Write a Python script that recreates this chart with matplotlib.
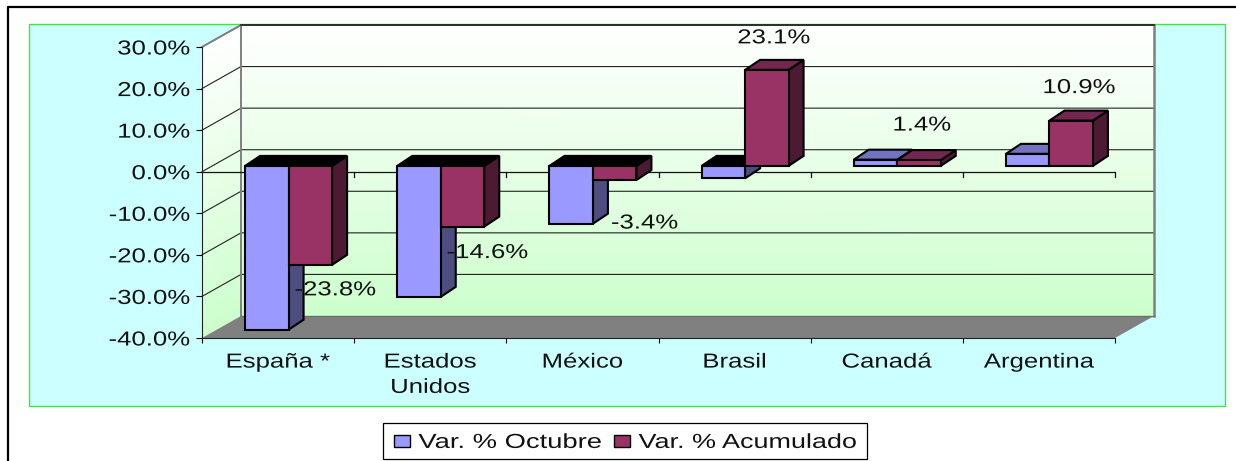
import matplotlib
matplotlib.use("Agg")
import matplotlib.pyplot as plt
from matplotlib.colors import LinearSegmentedColormap
from matplotlib.patches import Patch, Polygon, Rectangle
from matplotlib.patheffects import AbstractPathEffect
from matplotlib.transforms import Affine2D

plt.rcParams["font.family"] = ["Liberation Sans", "DejaVu Sans"]

# Data
categories = ["España *", "Estados\nUnidos", "México", "Brasil", "Canadá", "Argentina"]
var_octubre = [-39.4, -31.5, -13.9, -3.0, 1.5, 2.9]
var_acumulado = [-23.8, -14.6, -3.4, 23.1, 1.4, 10.9]
series_names = ["Var. % Octubre", "Var. % Acumulado"]
y_ticks = [-40, -30, -20, -10, 0, 10, 20, 30]

# Text in the reference is stretched sideways
TEXT_STRETCH = 1.27
FONT = 14.6


class Stretch(AbstractPathEffect):
    def __init__(self, sx=TEXT_STRETCH, anchor=0.5):
        super().__init__()
        self.sx = sx
        self.anchor = anchor

    def draw_path(self, renderer, gc, tpath, affine, rgbFace=None):
        bb = tpath.get_extents(affine)
        x0 = bb.x0 + self.anchor * bb.width
        stretched = affine + Affine2D().translate(-x0, 0).scale(self.sx, 1).translate(x0, 0)
        renderer.draw_path(gc, tpath, stretched, rgbFace)


W, H = 1236, 461
fig = plt.figure(figsize=(W / 100, H / 100), dpi=100, facecolor="white")

# Background panels, in pixels
bg = fig.add_axes([0, 0, 1, 1], zorder=-1)
bg.set_xlim(0, W)
bg.set_ylim(H, 0)
bg.axis("off")
bg.plot([8, 8, W], [H, 7, 7], color="black", lw=1.6)
bg.add_patch(Rectangle((29, 24), 1196, 382, fc="#CCFFFF", ec="#33EE33", lw=1))
bg.add_patch(Rectangle((383, 423), 484, 36, fc="white", ec="black", lw=0.9))

# Main axes: front plane of the 3D box
ax = fig.add_axes([202 / W, 1 - 338 / H, (1115 - 202) / W, (338 - 47) / H], zorder=1)
ax.patch.set_visible(False)
px_x = 6 / (1115 - 202)   # data units per pixel
px_y = 70 / (338 - 47)
depth_x, depth_y = 39 * px_x, 22 * px_y

# Walls and floor
wall_cmap = LinearSegmentedColormap.from_list("wall", ["#CCFFCC", "#FFFFFF"])
lo, hi = y_ticks[0], y_ticks[-1]
back = ax.pcolormesh([[depth_x, 6 + depth_x], [depth_x, 6 + depth_x]],
                     [[lo + depth_y, lo + depth_y], [hi + depth_y, hi + depth_y]],
                     [[0, 0], [1, 1]], shading="gouraud", cmap=wall_cmap, vmin=0, vmax=1, zorder=0)
side = ax.pcolormesh([[0, depth_x], [0, depth_x]],
                     [[lo, lo + depth_y], [hi, hi + depth_y]],
                     [[0, 0], [1, 1]], shading="gouraud", cmap=wall_cmap, vmin=0, vmax=1, zorder=0)
back.set_clip_on(False)
side.set_clip_on(False)
ax.add_patch(Polygon([(0, lo), (6, lo), (6 + depth_x, lo + depth_y), (depth_x, lo + depth_y)],
                     fc="#808080", ec="none", clip_on=False, zorder=0.5))

for v in y_ticks[1:]:
    ax.plot([0, depth_x, 6 + depth_x], [v, v + depth_y, v + depth_y],
            color="#222222", lw=0.8, clip_on=False, zorder=1)
ax.plot([0, depth_x, depth_x], [hi, hi + depth_y, lo + depth_y], color="#808080", lw=1.4, clip_on=False, zorder=1.2)
ax.plot([6 + depth_x, 6 + depth_x], [lo + depth_y, hi + depth_y], color="#808080", lw=1.8, clip_on=False, zorder=1.2)
ax.plot([depth_x, 6 + depth_x], [hi + depth_y, hi + depth_y], color="#222222", lw=1.2, clip_on=False, zorder=1.2)
ax.plot([depth_x, 6 + depth_x], [lo + depth_y, lo + depth_y], color="#6E6E6E", lw=1, clip_on=False, zorder=1.2)

# Zero line with its ticks
ax.axhline(0, color="#111111", lw=0.9, zorder=2)
for i in range(1, 7):
    ax.plot([i, i], [0, -5 * px_y], color="#111111", lw=0.9, clip_on=False, zorder=2)

# Bars
bar_w = 43.5 * px_x
off_x, off_y = 10.5 * px_x, 5.8 * px_y
bar_dx, bar_dy = 15 * px_x, 10 * px_y
styles = [("#9999FF", "#4D4D80", "#7373BF"), ("#993366", "#4D1A33", "#732650")]


def draw_bar(left, value, colors):
    front, dark, lid = colors
    base = off_y
    top = base + max(value, 0)
    bottom = base + min(value, 0)
    right = left + bar_w
    kw = dict(ec="black", lw=1.5, clip_on=False, zorder=3, joinstyle="miter")
    ax.add_patch(Polygon([(right, bottom), (right + bar_dx, bottom + bar_dy),
                          (right + bar_dx, top + bar_dy), (right, top)], fc=dark, **kw))
    ax.add_patch(Polygon([(left, top), (left + bar_dx, top + bar_dy),
                          (right + bar_dx, top + bar_dy), (right, top)],
                         fc="black" if value < 0 else lid, **kw))
    ax.add_patch(Rectangle((left, bottom), bar_w, top - bottom, fc=front, **kw))


for i in range(len(categories)):
    start = i + 0.5 - bar_w + off_x
    draw_bar(start, var_octubre[i], styles[0])
    draw_bar(start + bar_w, var_acumulado[i], styles[1])

# Value labels, offset in pixels from the top of each red bar
label_offsets = [(25, -25), (25, -26), (30, -43), (7, 32), (3, 35), (8, 33)]
for i, (v, (dx, dy)) in enumerate(zip(var_acumulado, label_offsets)):
    x = i + 0.5 + off_x + bar_w / 2
    ax.annotate(f"{v:.1f}%", xy=(x, v + off_y), xytext=(dx, dy), textcoords="offset pixels",
                ha="center", va="center", fontsize=FONT, color="#111111", zorder=4,
                annotation_clip=False, path_effects=[Stretch()])

# Axes
ax.set_xlim(0, 6)
ax.set_ylim(lo, hi)
ax.spines["top"].set_visible(False)
ax.spines["right"].set_visible(False)
ax.spines["left"].set_color("#222222")
ax.spines["bottom"].set_color("#222222")
ax.set_yticks(y_ticks)
ax.set_yticklabels([f"{v:.1f}%" for v in y_ticks], fontsize=FONT, color="#111111")
ax.tick_params(axis="y", length=4.3, width=0.8, pad=4.3)
ax.set_xticks([i + 0.5 for i in range(6)])
ax.set_xticklabels(categories, fontsize=FONT, color="#111111", linespacing=1.42)
ax.set_xticks(range(7), minor=True)
ax.tick_params(axis="x", which="major", length=0, pad=10.5)
ax.tick_params(axis="x", which="minor", length=3.6, width=0.8)
for lab in ax.get_yticklabels():
    lab.set_path_effects([Stretch(anchor=1)])
for lab in ax.get_xticklabels():
    lab.set_path_effects([Stretch()])

# Legend, frame is drawn on the background because the stretched text is wider than its layout
handles = [Patch(fc=styles[0][0], ec="black", lw=1), Patch(fc=styles[1][0], ec="black", lw=1)]
leg = fig.legend(handles, series_names, ncol=2, frameon=False, loc="lower left",
                 bbox_to_anchor=(388 / W, 1 - 458 / H), borderaxespad=0, borderpad=0.3,
                 fontsize=FONT, handlelength=0.8, handleheight=0.55, handletextpad=0.4,
                 columnspacing=2.95)
for t, sx in zip(leg.get_texts(), [1.35, 1.33]):
    t.set_path_effects([Stretch(sx=sx, anchor=0)])
    t.set_color("#111111")

fig.savefig("out.png", dpi=100, facecolor="white")
